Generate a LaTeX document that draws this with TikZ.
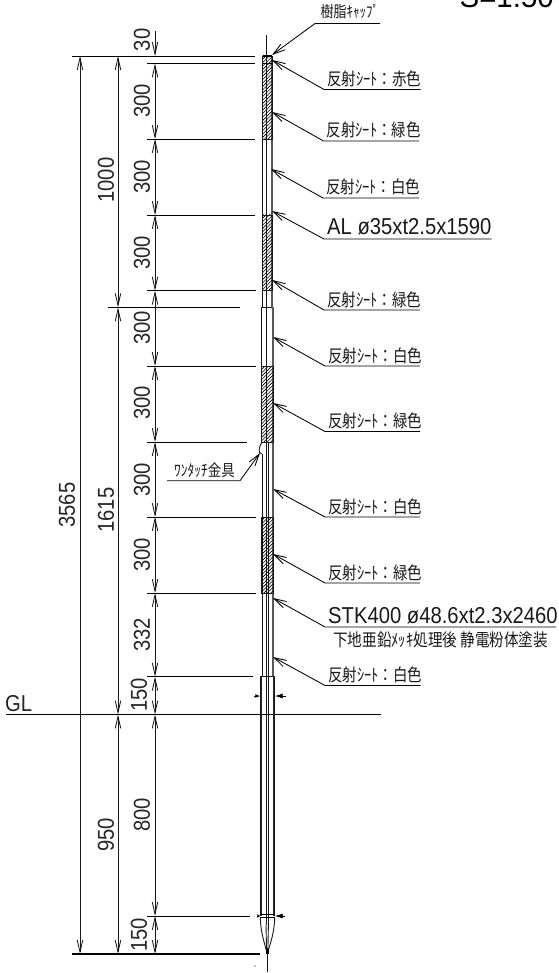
\documentclass[tikz,border=0pt]{standalone}
\usepackage{fontspec}
\usepackage{graphicx}
\usetikzlibrary{arrows.meta}
\setmainfont{Liberation Sans}
\newfontfamily\cjk{Noto Sans CJK JP}
\newcommand{\lat}[1]{{\fontsize{23}{23}\selectfont\scalebox{.88}[1]{#1}}}
\newcommand{\jp}[2]{{\cjk\fontsize{#1}{#1}\selectfont\scalebox{1}[1.2]{#2}}}
\tikzset{
  cad/.style={line width=.8pt,black},
  ext/.style={line width=.9pt,black},
  wall/.style={line width=.9pt,black!90},
  wallr/.style={line width=1.3pt,black!65},
  dimline/.style={line width=.85pt,black!90,{Straight Barb[length=12pt,width=5.5pt]}-{Straight Barb[length=12pt,width=5.5pt]}},
  dimone/.style={line width=.85pt,black!90,-{Straight Barb[length=12pt,width=5.5pt]}},
  leaderline/.style={line width=.85pt,black,{Straight Barb[length=12pt,width=7pt]}-},
  dimtext/.style={rotate=90,inner sep=0pt,anchor=center,text=black!85},
  lbl/.style={inner sep=0pt,anchor=base west,text=black!90},
}
% name, tip x,y, corner x,y, end x, text
\newcommand{\leader}[7]{
  \coordinate (#1-tip) at (#2,#3);
  \coordinate (#1-cor) at (#4,#5);
  \coordinate (#1-end) at (#6,#5);
  \draw[leaderline] (#1-tip) -- (#1-cor) -- (#1-end);
  \node[lbl] (#1-txt) at (#4+3,#5-4) {#7};
}
% name, x, y1, y2, label, lx, ly
\newcommand{\dimv}[7]{
  \coordinate (#1-a) at (#2,#3);
  \coordinate (#1-b) at (#2,#4);
  \draw[dimline] (#1-a) -- (#1-b);
  \node[dimtext] (#1-txt) at (#6,#7) {\lat{#5}};
}
\newcommand{\hatch}[4]{
  \begin{scope}
    \clip (#1,#2) rectangle (#3,#4);
    \pgfmathsetmacro{\yend}{#4+12}
    \pgfmathsetmacro{\ysec}{#2+3.4}
    \foreach \d in {#2,\ysec,...,\yend}
      \draw[line width=.6pt] (#1,\d) -- (#3,\d-#3+#1);
  \end{scope}
  \draw[wall] (#1,#2) rectangle (#3,#4);
}
\begin{document}
\begin{tikzpicture}[x=1pt,y=-1pt]
\useasboundingbox (0,0) rectangle (558,973);
\clip (0,0) rectangle (558,973);
\fill[white] (0,0) rectangle (558,973);

% title
\node[inner sep=0pt,anchor=base east] (title) at (554,7.5) {\fontsize{31}{31}\selectfont\scalebox{.95}[1]{S=1:50}};

% extension lines
\coordinate (L0a) at (72,56);   \coordinate (L0b) at (255,56);
\coordinate (L1a) at (147,63.5);\coordinate (L1b) at (255,63.5);
\coordinate (L2a) at (147,139); \coordinate (L2b) at (255,139);
\coordinate (L3a) at (147,215); \coordinate (L3b) at (255,215);
\coordinate (L4a) at (147,290.7);\coordinate (L4b) at (256,290.7);
\coordinate (L5a) at (108,307.3);\coordinate (L5b) at (240,307.3);
\coordinate (L6a) at (147,366); \coordinate (L6b) at (256,366);
\coordinate (L7a) at (147,442); \coordinate (L7b) at (247,442);
\coordinate (L8a) at (147,517); \coordinate (L8b) at (256,517);
\coordinate (L9a) at (147,593); \coordinate (L9b) at (256,593);
\coordinate (L10a) at (147,676.7);\coordinate (L10b) at (253,676.7);
\coordinate (GLa) at (6,714.5); \coordinate (GLb) at (381,714.5);
\coordinate (L12a) at (147,916);\coordinate (L12b) at (250,916);
\coordinate (L13a) at (72,954); \coordinate (L13b) at (260,954);
\foreach \n in {L0,L1,L2,L3,L4,L5,L6,L7,L8,L9,L10,GL,L12,L13}
  \draw[ext] (\n a) -- (\n b);
\draw[ext,line width=1.2pt] (L13a) -- (L13b);

% dimension chains
\coordinate (d30s) at (155,31);
\coordinate (d30e) at (155,56);
\draw[dimone] (d30s) -- (d30e);
\node[dimtext] (t30) at (142,40) {\lat{30}};
\dimv{a1}{155}{63.5}{139}{300}{142}{101}
\dimv{a2}{155}{139}{215}{300}{142}{177}
\dimv{a3}{155}{215}{290.7}{300}{142}{253}
\dimv{a4}{155}{290.7}{366}{300}{142}{328}
\dimv{a5}{155}{366}{442}{300}{142}{403}
\dimv{a6}{155}{442}{517}{300}{142}{480}
\dimv{a7}{155}{517}{593}{300}{142}{555}
\dimv{a8}{155}{593}{676.7}{332}{142}{635}
\dimv{a9}{155}{676.7}{714.5}{150}{139}{695}
\dimv{a10}{155}{714.5}{916}{800}{142}{815}
\dimv{a11}{155}{916}{954}{150}{139}{935}
\dimv{b1}{118}{56}{307.3}{1000}{106}{180}
\dimv{b2}{118}{307.3}{714.5}{1615}{106}{510}
\dimv{b3}{118}{714.5}{954}{950}{106}{835}
\dimv{c1}{80}{56}{954}{3565}{67}{505}
\node[inner sep=0pt,anchor=base west,text=black!85] (gl) at (5,711) {\lat{GL}};

% upper tube
\draw[wall] (262.5,56) -- (262.5,307.3);
\draw[wallr] (272,56) -- (272,307.3);
\draw[wall] (266.8,35) -- (266.8,442);
% lower tube
\draw[wall] (261.7,307.3) -- (261.7,442);
\draw[wall] (261.7,307.3) -- (273,307.3);
\draw[wallr] (273,307.3) -- (273,676.7);
\draw[wall] (262,454) -- (262,676.7);
\draw[wall] (266,442) -- (266,925);
\draw[wall] (268.4,442) -- (268.4,925);
% one-touch fitting
\draw[wall] (262,442) .. controls (259,447) and (257.5,453) .. (261.7,454);
% hatched bands
\hatch{262.5}{56}{272}{139}
\draw[line width=1.4pt] (262.5,56) -- (272,56);
\draw[line width=.9pt,black] (262.5,63.5) -- (272,63.5);
\hatch{262.5}{215}{272}{290.7}
\hatch{261.7}{366}{273}{442}
\hatch{261.7}{517}{273}{593}
% socket
\draw[wall] (260.3,916) -- (260.3,676.7) -- (274.7,676.7) -- (274.7,916);
\draw[line width=.9pt,black!85] (261.9,676.7) -- (261.9,916);
\draw[line width=.9pt,black!85] (273.1,676.7) -- (273.1,916);
\draw[line width=1pt] (260,914) -- (275,914);
\draw[line width=1pt] (260,917.5) -- (275,917.5);
% nose
\draw[wall] (260.3,917.5) .. controls (260.5,932) and (265,945) .. (266.5,951);
\draw[wall] (274.7,917.5) .. controls (274.5,932) and (270,945) .. (268,951);
\draw[wall] (266,925) -- (266.6,951);
\draw[wall] (268.4,925) -- (267.9,951);
\draw[line width=3pt] (267.3,948) -- (267.3,954);
\draw[wall] (267.3,954) -- (267.3,972);
\fill (255,966) circle (.7);
% section marks
\coordinate (m1a) at (253.5,696); \coordinate (m1b) at (260.3,696);
\coordinate (m2a) at (286,696);   \coordinate (m2b) at (274.7,696);
\coordinate (m3a) at (257,916);   \coordinate (m3b) at (260.3,916);
\coordinate (m4a) at (285,916);   \coordinate (m4b) at (274.7,916);
\draw[line width=.9pt,-{Latex[length=5pt,width=4pt]}] (m1a) -- (m1b);
\draw[line width=.9pt,-{Latex[length=8pt,width=5pt]}] (m2a) -- (m2b);
\draw[line width=.9pt,-{Latex[length=3pt,width=4pt]}] (m3a) -- (m3b);
\draw[line width=.9pt,-{Latex[length=8pt,width=5pt]}] (m4a) -- (m4b);

% leaders
\newcommand{\sheet}[1]{\jp{14.5}{反射ｼｰﾄ：#1色}}
\coordinate (cap-tip) at (272,55);
\coordinate (cap-cor) at (315,23.5);
\coordinate (cap-end) at (380,23.5);
\draw[leaderline] (cap-tip) -- (cap-cor) -- (cap-end);
\node[lbl] (cap-txt) at (320.5,17.5) {\jp{13}{樹脂ｷｬｯﾌﾟ}};
\leader{s1}{272}{60}{324}{89.5}{420.7}{\sheet{赤}}
\leader{s2}{272}{112}{323.5}{141}{419}{\sheet{緑}}
\leader{s3}{271}{169}{323}{198}{419}{\sheet{白}}
\leader{s5}{272}{280}{324}{310}{420}{\sheet{緑}}
\leader{s6}{273}{337}{325}{366}{420}{\sheet{白}}
\leader{s7}{273}{403}{325}{431.5}{420}{\sheet{緑}}
\leader{s8}{273}{489}{325}{517}{420}{\sheet{白}}
\leader{s9}{273}{554}{325}{583}{420}{\sheet{緑}}
\leader{s10}{273}{657}{325}{685.5}{420.7}{\sheet{白}}
\leader{al}{272}{211}{324}{239}{491.7}{\lat{AL ø35xt2.5x1590}}
\leader{stk}{273}{598}{325}{627}{556}{\lat{STK400 ø48.6xt2.3x2460}}
\node[lbl] (stk-sub) at (333,646.5) {\jp{14.6}{下地亜鉛ﾒｯｷ処理後 静電粉体塗装}};
% one-touch leader
\coordinate (ot-tip) at (260,453);
\coordinate (ot-cor) at (240,480.7);
\coordinate (ot-end) at (167,480.7);
\draw[leaderline] (ot-tip) -- (ot-cor) -- (ot-end);
\node[lbl] (ot-txt) at (174,476.5) {\jp{13.5}{ﾜﾝﾀｯﾁ金具}};
\end{tikzpicture}
\end{document}
